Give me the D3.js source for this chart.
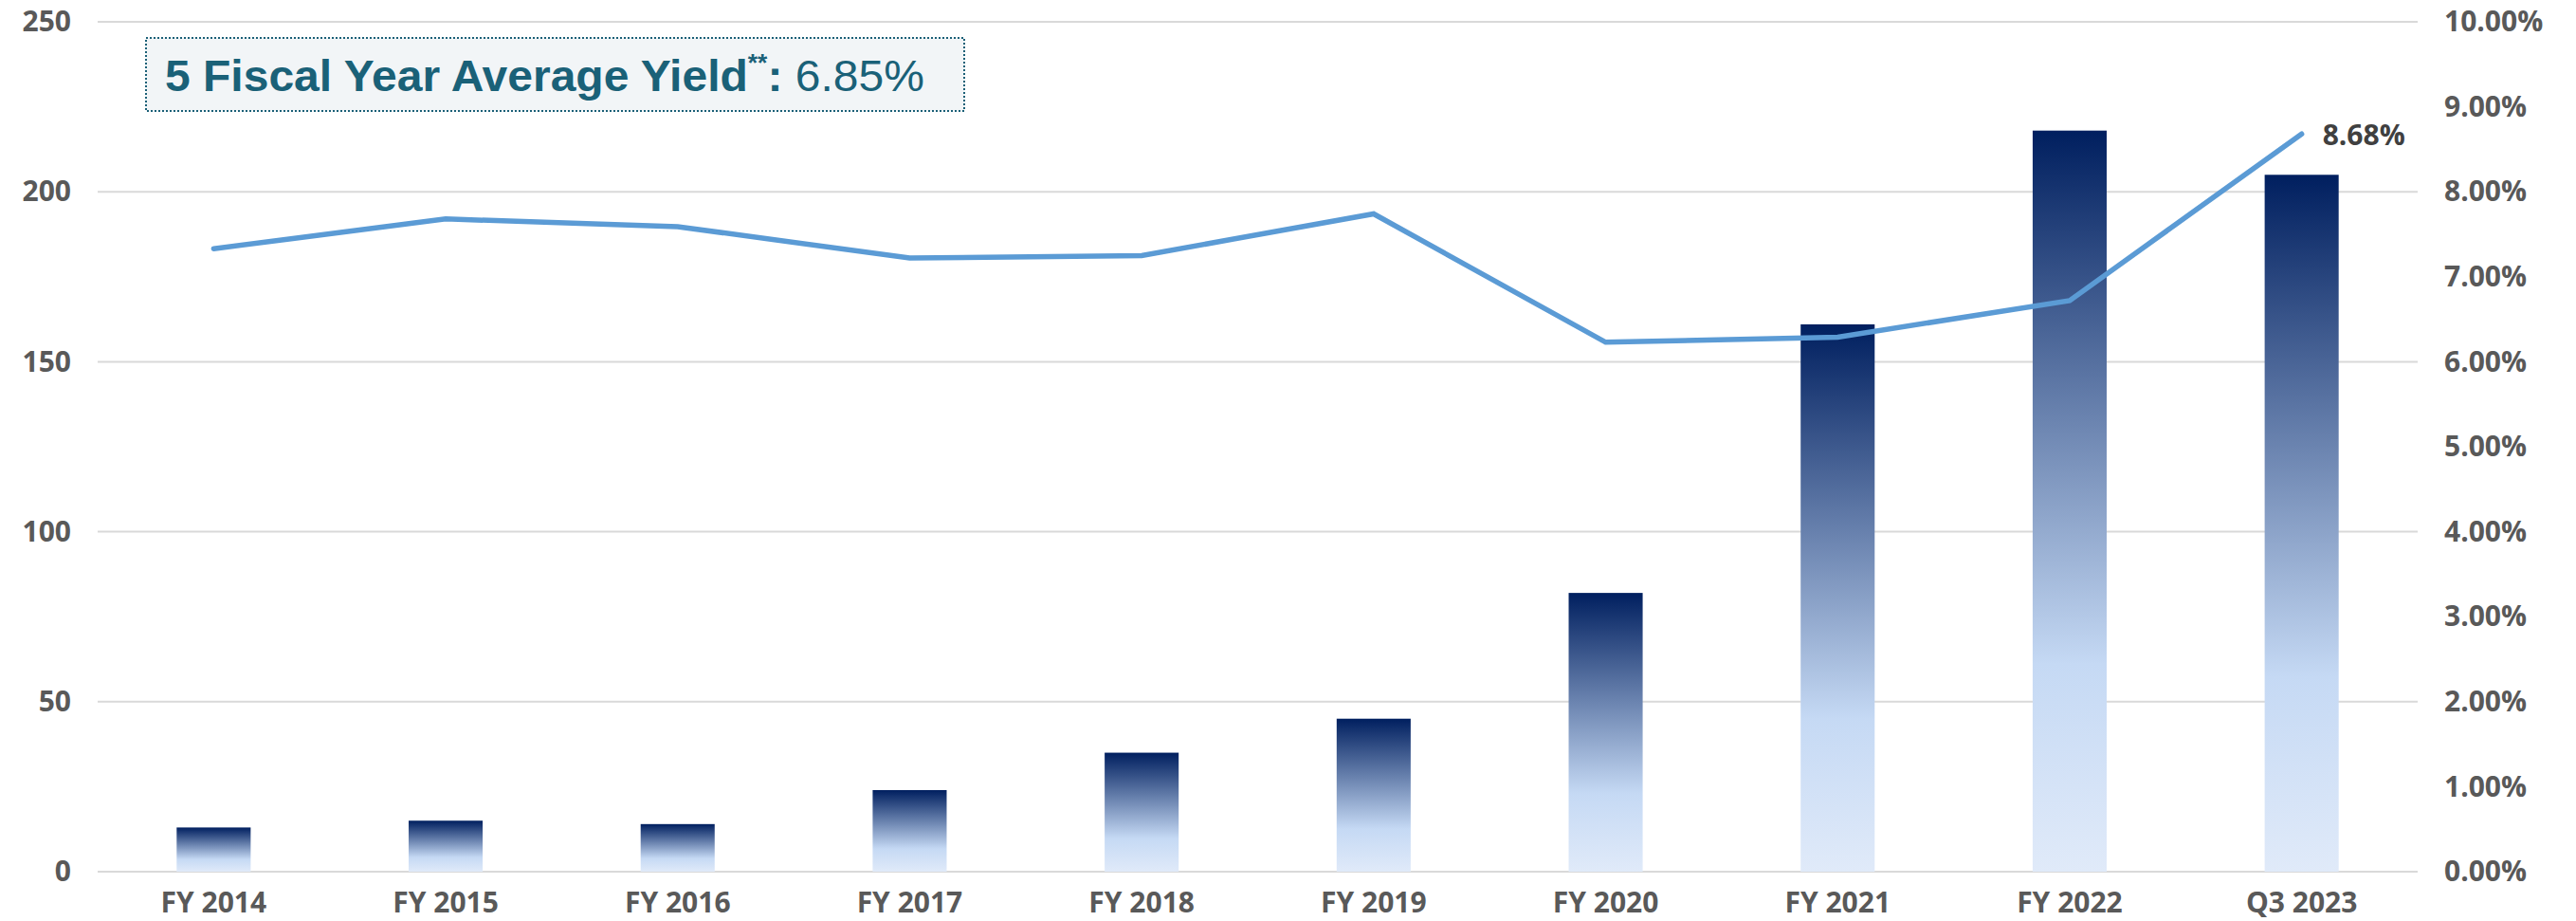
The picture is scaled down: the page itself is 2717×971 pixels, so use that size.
<!DOCTYPE html>
<html>
<head>
<meta charset="utf-8">
<script src="https://cdn.jsdelivr.net/npm/d3@7"></script>
<style>
  html, body { margin: 0; padding: 0; background: #ffffff; }
  svg { display: block; }
</style>
</head>
<body>
<svg id="chart" width="2717" height="971" viewBox="0 0 2717 971"></svg>
<script>
(function () {
  'use strict';

  // data
  const categories = ['FY 2014', 'FY 2015', 'FY 2016', 'FY 2017', 'FY 2018', 'FY 2019', 'FY 2020', 'FY 2021', 'FY 2022', 'Q3 2023'];
  const barValues = [13, 15, 14, 24, 35, 45, 82, 161, 218, 205];
  const yieldValues = [7.33, 7.68, 7.59, 7.22, 7.25, 7.74, 6.23, 6.29, 6.72, 8.68];
  const leftTicks = [0, 50, 100, 150, 200, 250];
  const rightTicks = [0, 1, 2, 3, 4, 5, 6, 7, 8, 9, 10];
  const lastLabel = '8.68%';
  const titleBold = '5 Fiscal Year Average Yield';
  const titleStars = '**';
  const titleValue = '6.85%';

  const plot = { left: 103, right: 2550, top: 23, bottom: 919 };
  const axisFont = '"Open Sans", "Liberation Sans", sans-serif';
  const axisColor = '#595959';

  const svg = d3.select('#chart');

  const x = d3.scaleBand()
    .domain(categories)
    .range([plot.left, plot.right])
    .paddingInner(0.681)
    .paddingOuter(0.3405);
  const yLeft = d3.scaleLinear().domain([0, 250]).range([plot.bottom, plot.top]);
  const yRight = d3.scaleLinear().domain([0, 10]).range([plot.bottom, plot.top]);

  // bar gradient, one per bar box
  const defs = svg.append('defs');
  const grad = defs.append('linearGradient')
    .attr('id', 'barGrad')
    .attr('x1', 0).attr('y1', 0).attr('x2', 0).attr('y2', 1);
  grad.append('stop').attr('offset', '0%').attr('stop-color', '#001f5f');
  grad.append('stop').attr('offset', '72%').attr('stop-color', '#c5d9f4');
  grad.append('stop').attr('offset', '100%').attr('stop-color', '#e0eaf9');

  // gridlines
  svg.append('g').attr('class', 'grid')
    .selectAll('line')
    .data(leftTicks)
    .join('line')
    .attr('x1', plot.left)
    .attr('x2', plot.right)
    .attr('y1', function (d) { return yLeft(d); })
    .attr('y2', function (d) { return yLeft(d); })
    .attr('stroke', '#d9d9d9')
    .attr('stroke-width', 2);

  // bars
  svg.append('g').attr('class', 'bars')
    .selectAll('rect')
    .data(barValues)
    .join('rect')
    .attr('x', function (d, i) { return x(categories[i]); })
    .attr('y', function (d) { return yLeft(d); })
    .attr('width', x.bandwidth())
    .attr('height', function (d) { return yLeft(0) - yLeft(d); })
    .attr('fill', 'url(#barGrad)');

  // yield line
  const line = d3.line()
    .x(function (d, i) { return x(categories[i]) + x.bandwidth() / 2; })
    .y(function (d) { return yRight(d); });
  svg.append('path')
    .datum(yieldValues)
    .attr('d', line)
    .attr('fill', 'none')
    .attr('stroke', '#5b9bd5')
    .attr('stroke-width', 5.5)
    .attr('stroke-linecap', 'round')
    .attr('stroke-linejoin', 'miter');

  const lastIdx = yieldValues.length - 1;
  svg.append('text')
    .attr('x', x(categories[lastIdx]) + x.bandwidth() / 2 + 22)
    .attr('y', yRight(yieldValues[lastIdx]) + 12)
    .attr('font-family', axisFont)
    .attr('font-weight', 700)
    .attr('font-size', 30)
    .attr('fill', '#404040')
    .text(lastLabel);

  // axes
  function styleAxis(g, size) {
    g.select('.domain').remove();
    g.selectAll('.tick line').remove();
    g.selectAll('text')
      .attr('font-family', axisFont)
      .attr('font-weight', 700)
      .attr('font-size', size)
      .attr('fill', axisColor);
  }

  svg.append('g')
    .attr('transform', 'translate(75,0)')
    .call(d3.axisLeft(yLeft).tickValues(leftTicks).tickSize(0).tickPadding(0))
    .call(styleAxis, 30);

  svg.append('g')
    .attr('transform', 'translate(2578,0)')
    .call(d3.axisRight(yRight).tickValues(rightTicks).tickSize(0).tickPadding(0)
      .tickFormat(function (d) { return d.toFixed(2) + '%'; }))
    .call(styleAxis, 30);

  svg.append('g')
    .attr('transform', 'translate(0,' + plot.bottom + ')')
    .call(d3.axisBottom(x).tickSize(0).tickPadding(22))
    .call(styleAxis, 30);

  // title box
  const box = svg.append('g').attr('class', 'title-box');
  box.append('rect')
    .attr('x', 154)
    .attr('y', 40)
    .attr('width', 863)
    .attr('height', 77)
    .attr('fill', '#f2f5f7')
    .attr('stroke', '#1b6077')
    .attr('stroke-width', 2)
    .attr('stroke-dasharray', '2,2');

  const titleG = box.append('g').attr('transform', 'translate(174,96)');
  const title = titleG.append('text')
    .attr('x', 0)
    .attr('y', 0)
    .attr('font-family', '"Liberation Sans", Arial, sans-serif')
    .attr('font-size', 46)
    .attr('fill', '#1a6178');
  title.append('tspan').attr('font-weight', 700).text(titleBold);
  title.append('tspan').attr('font-weight', 700).attr('font-size', '0.55em').attr('dy', '-0.85em').text(titleStars);
  title.append('tspan').attr('font-weight', 700).attr('dy', '0.47em').text(': ');
  title.append('tspan').attr('font-weight', 400).text(titleValue);

  // squeeze the title horizontally to the width seen in the reference
  const targetW = 801;
  const measured = title.node().getComputedTextLength();
  if (measured > 0) {
    titleG.attr('transform', 'translate(174,96) scale(' + (targetW / measured) + ',1)');
  }
})();
</script>
</body>
</html>
